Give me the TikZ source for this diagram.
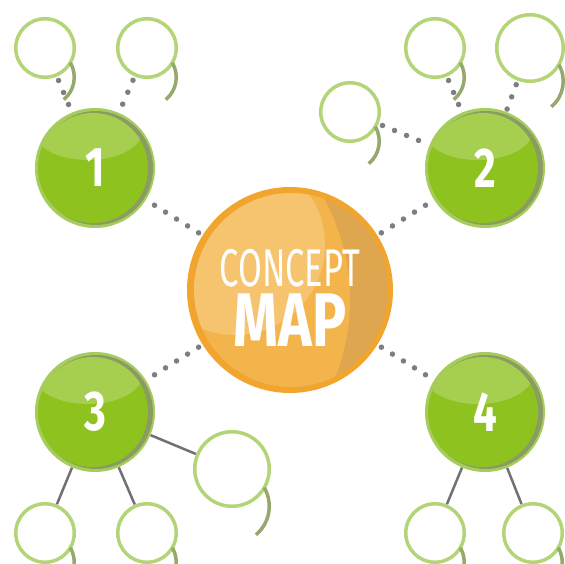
\documentclass[tikz,border=0pt]{standalone}
\usepackage{fontspec}
\setmainfont{Fira Sans}
\usetikzlibrary{positioning}

\definecolor{ballgreen}{RGB}{141,194,31}
\definecolor{greenring}{RGB}{166,204,94}
\definecolor{greendark}{RGB}{138,156,98}
\definecolor{maporange}{RGB}{244,180,76}
\definecolor{mapring}{RGB}{241,165,45}
\definecolor{mapdark}{RGB}{222,166,78}
\definecolor{leafgreen}{RGB}{180,212,120}
\definecolor{leafdark}{RGB}{150,168,108}
\definecolor{dotgray}{RGB}{125,125,130}
\definecolor{linkgray}{RGB}{112,112,118}

\begin{document}
\begin{tikzpicture}[
            x=1pt, y=-1pt,
            ball/.style={circle, inner sep=0pt, minimum size=120pt, fill=greenring, text=white,
                font=\fontsize{56}{56}\selectfont\bfseries,
                path picture={
                    \fill[greendark] ([xshift=1pt]path picture bounding box.center) circle (57pt);
                    \fill[ballgreen] ([xshift=-2pt]path picture bounding box.center) circle (55pt);
                    \clip ([xshift=-2pt]path picture bounding box.center) circle (55pt);
                    \fill[white, opacity=.22] ([xshift=-7pt,yshift=38pt]path picture bounding box.center) ellipse (55pt and 30pt);
                }},
            mapball/.style={circle, inner sep=0pt, minimum size=206pt, fill=mapring,
                path picture={
                    \fill[mapdark] ([xshift=1pt]path picture bounding box.center) circle (97pt);
                    \clip ([xshift=1pt]path picture bounding box.center) circle (97pt);
                    \fill[maporange] ([xshift=-150pt,yshift=-10pt]path picture bounding box.center) circle (210pt);
                    \fill[white, opacity=.2] ([xshift=-55pt,yshift=45pt]path picture bounding box.center) circle (90pt);
                }},
            maptitle/.style={inner sep=0pt, text=white, font=\fontsize{53}{53}\selectfont},
            bubble/.style={circle, inner sep=0pt, minimum size=#1},
            bubble/.default=62pt,
            ring/.style={draw=leafgreen, fill=white, line width=3.5pt},
            dots/.style={draw=dotgray, line width=5.5pt, line cap=round, dash pattern=on 0pt off 13pt},
            link/.style={draw=linkgray, line width=2.5pt}
        ]
        \useasboundingbox (0,0) rectangle (565,563);

        % centre
        \node[mapball] (map) at (290,290) {};
        \node[maptitle] (title) at (290,306) {\begin{tabular}{@{}c@{}}\scalebox{.65}[1]{CONCEPT}\\[-9pt]\scalebox{.75}[1]{\fontsize{76}{76}\selectfont\bfseries MAP}\end{tabular}};

        % numbered balls
        \node[ball] (one) at (95,168) {\scalebox{.75}[1]{1}};
        \node[ball] (two) at (485,168) {\scalebox{.75}[1]{2}};
        \node[ball] (three) at (95,412) {\scalebox{.75}[1]{3}};
        \node[ball] (four) at (485,412) {\scalebox{.75}[1]{4}};

        % empty bubbles
        \node[bubble] (oneA) at (45,48) {};
        \node[bubble] (oneB) at (147,48) {};
        \node[bubble] (twoA) at (350,112) {};
        \node[bubble] (twoB) at (435,48) {};
        \node[bubble=70pt] (twoC) at (530,48) {};
        \node[bubble=78pt] (threeA) at (232,469) {};
        \node[bubble] (threeB) at (45,533) {};
        \node[bubble] (threeC) at (147,533) {};
        \node[bubble] (fourA) at (435,533) {};
        \node[bubble] (fourB) at (533,533) {};
        \foreach \b/\r in {oneA/29.25, oneB/29.25, twoA/29.25, twoB/29.25, twoC/33.25,
                threeA/37.25, threeB/29.25, threeC/29.25, fourA/29.25, fourB/29.25} {
            \draw[ring] (\b.center) circle [radius=\r];
            \draw[leafdark, line width=3.5pt] (\b.center) ++(-30:\r pt) arc [start angle=-30, end angle=50, radius=\r];
        }

        % dotted connectors
        \draw[dots, shorten <=10pt, shorten >=4pt] (one) -- (map);
        \draw[dots, shorten <=10pt, shorten >=4pt] (two) -- (map);
        \draw[dots, shorten <=10pt, shorten >=4pt] (three) -- (map);
        \draw[dots, shorten <=10pt, shorten >=4pt] (four) -- (map);
        \draw[dots, shorten <=4pt] (oneA) -- (one);
        \draw[dots, shorten <=4pt] (oneB) -- (one);
        \draw[dots, shorten <=4pt] (twoB) -- (two);
        \draw[dots, shorten <=4pt] (twoC) -- (two);
        \draw[dots, shorten <=4pt] (twoA) -- (two);

        % solid links
        \draw[link] (three) -- (threeA);
        \draw[link] (three) -- (threeB);
        \draw[link] (three) -- (threeC);
        \draw[link] (four) -- (fourA);
        \draw[link] (four) -- (fourB);

    \end{tikzpicture}
\end{document}
